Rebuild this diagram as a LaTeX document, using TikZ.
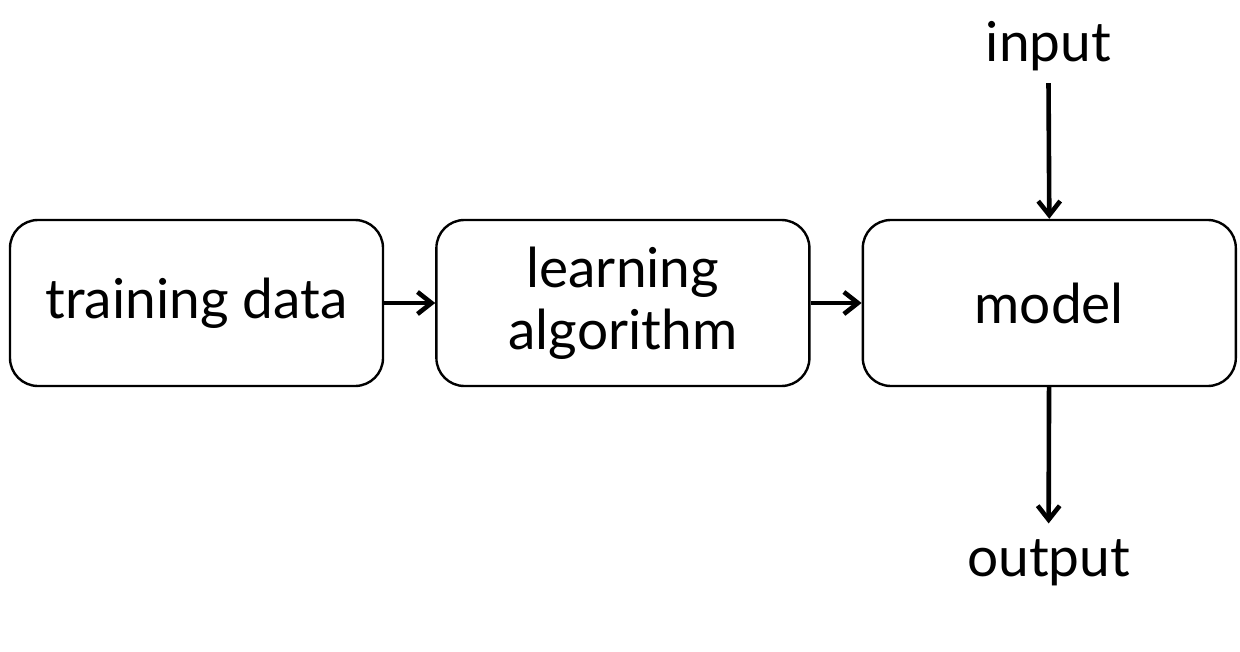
\documentclass[tikz,border=0pt]{standalone}
\usepackage{fontspec}
\setmainfont{Lato}
\usetikzlibrary{positioning, arrows.meta}
\tikzstyle{block} = [rectangle, rounded corners=14pt, minimum width=186.5pt, minimum height=83pt, text centered, align=center, draw=black, line width=1.2pt, font=\fontsize{27.5}{31}\selectfont]
\tikzstyle{label} = [font=\fontsize{27.5}{31}\selectfont, inner sep=0pt]
\tikzstyle{arrow} = [line width=2.3pt, -{Straight Barb[length=7pt, width=11pt]}]

\begin{document}
\begin{tikzpicture}[x=0.5pt, y=-0.5pt, node distance=25.5pt]
\useasboundingbox (0,0) rectangle (1240,652);

% Bloques
\node (train) [block] at (196.5,303) {training data};
\node (learn) [block, right=of train] {learning\\algorithm};
\node (model) [block, right=of learn] {model};
\node (input) [label] at (1048.5,46) {input};
\node (output) [label] at (1048.5,563) {output};

% Flechas
\draw [arrow] (train) -- (learn);
\draw [arrow] (learn) -- (model);
\draw [arrow] (input.south) ++(0,-6pt) -- (model.north);
\draw [arrow, shorten >=8pt] (model) -- (output);

\end{tikzpicture}
\end{document}
